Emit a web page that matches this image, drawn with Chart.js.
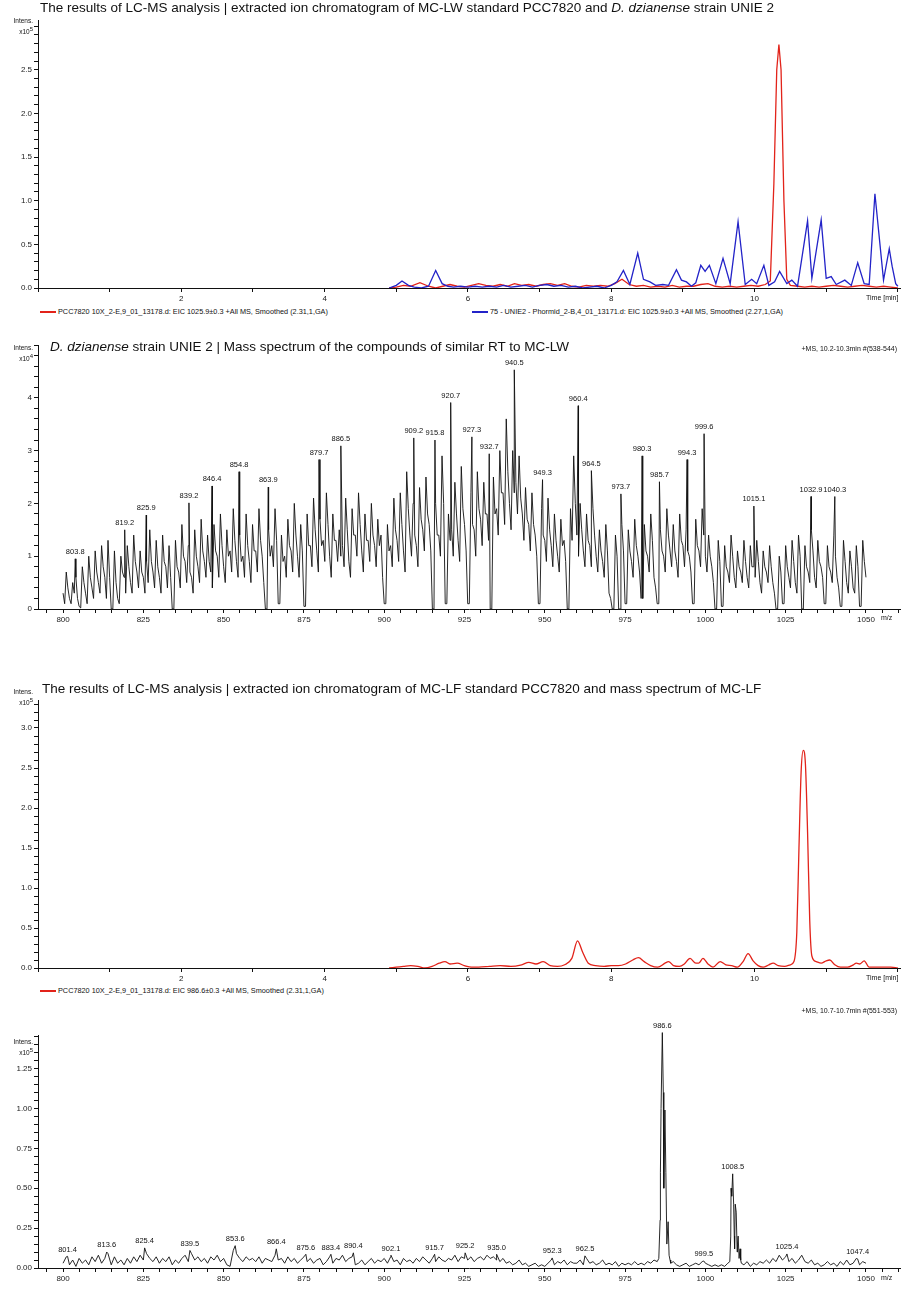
<!DOCTYPE html>
<html>
<head>
<meta charset="utf-8">
<script src="https://cdn.jsdelivr.net/npm/chart.js@4.4.1/dist/chart.umd.min.js"></script>
<style>
body { margin: 0; background: #fff; width: 901px; height: 1290px; position: relative; overflow: hidden; font-family: "Liberation Sans", Arial, sans-serif; color: #111; }
canvas { position: absolute; left: 0; }
.txt { position: absolute; white-space: nowrap; line-height: 1; }
.title { font-size: 13.5px; line-height: 16px; }
.small { font-size: 7px; }
.legtxt { font-size: 7.3px; }
.intens { font-size: 6.5px; width: 33px; text-align: right; left: 0; }
.leg { position: absolute; height: 1.5px; }
</style>
</head>
<body>

<!-- panel 1 -->
<canvas id="c1" width="901" height="304" style="top:0px"></canvas>
<div class="txt title" style="left:40px;top:0px">The results of LC-MS analysis | extracted ion chromatogram of MC-LW standard PCC7820 and <i>D. dzianense</i> strain UNIE 2</div>
<div class="txt intens" style="top:18px">Intens.</div>
<div class="txt intens" style="top:26px">x10<sup style="font-size:6px">5</sup></div>
<div class="txt small" style="left:866px;top:294px">Time [min]</div>
<div class="leg" style="left:40px;top:311px;width:16px;background:#e2231a"></div>
<div class="txt legtxt" style="left:58px;top:308px">PCC7820 10X_2-E,9_01_13178.d: EIC 1025.9±0.3 +All MS, Smoothed (2.31,1,GA)</div>
<div class="leg" style="left:472px;top:311px;width:16px;background:#2323c8"></div>
<div class="txt legtxt" style="left:490px;top:308px">75 - UNIE2 - Phormid_2-B,4_01_13171.d: EIC 1025.9±0.3 +All MS, Smoothed (2.27,1,GA)</div>

<!-- panel 2 -->
<canvas id="c2" width="901" height="295" style="top:330px"></canvas>
<div class="txt title" style="left:50px;top:339px"><i>D. dzianense</i> strain UNIE 2 | Mass spectrum of the compounds of similar RT to MC-LW</div>
<div class="txt intens" style="top:345px">Intens.</div>
<div class="txt intens" style="top:353px">x10<sup style="font-size:6px">4</sup></div>
<div class="txt small" style="right:4px;top:345px">+MS, 10.2-10.3min #(538-544)</div>
<div class="txt small" style="left:881px;top:614px">m/z</div>

<!-- panel 3 -->
<canvas id="c3" width="901" height="304" style="top:680px"></canvas>
<div class="txt title" style="left:42px;top:681px">The results of LC-MS analysis | extracted ion chromatogram of MC-LF standard PCC7820 and mass spectrum of MC-LF</div>
<div class="txt intens" style="top:689px">Intens.</div>
<div class="txt intens" style="top:697px">x10<sup style="font-size:6px">5</sup></div>
<div class="txt small" style="left:866px;top:974px">Time [min]</div>
<div class="leg" style="left:40px;top:990px;width:16px;background:#e2231a"></div>
<div class="txt legtxt" style="left:58px;top:987px">PCC7820 10X_2-E,9_01_13178.d: EIC 986.6±0.3 +All MS, Smoothed (2.31,1,GA)</div>

<!-- panel 4 -->
<canvas id="c4" width="901" height="269" style="top:1015px"></canvas>
<div class="txt intens" style="top:1039px">Intens.</div>
<div class="txt intens" style="top:1047px">x10<sup style="font-size:6px">5</sup></div>
<div class="txt small" style="right:4px;top:1007px">+MS, 10.7-10.7min #(551-553)</div>
<div class="txt small" style="left:881px;top:1274px">m/z</div>

<script>
// ---- panel 1 : EIC 1025.9 (MC-LW), x10^5 ----
var lwStdTime = [4.9, 5.0, 5.1, 5.2, 5.33, 5.45, 5.55, 5.65, 5.75, 5.85, 5.95, 6.05, 6.15, 6.25, 6.35, 6.45, 6.55, 6.65, 6.75, 6.85, 6.95, 7.05, 7.15, 7.25, 7.35, 7.45, 7.55, 7.65, 7.75, 7.85, 7.95, 8.05, 8.15, 8.25, 8.35, 8.45, 8.55, 8.65, 8.75, 8.85, 8.95, 9.05, 9.15, 9.25, 9.35, 9.45, 9.55, 9.65, 9.75, 9.85, 9.95, 10.05, 10.15, 10.22, 10.27, 10.31, 10.34, 10.37, 10.41, 10.45, 10.5, 10.6, 10.7, 10.8, 10.9, 11.0, 11.1, 11.2, 11.3, 11.4, 11.5, 11.6, 11.7, 11.8, 11.9, 12.0];
var lwStdInt = [0.0, 0.01, 0.03, 0.02, 0.06, 0.02, 0.0, 0.02, 0.04, 0.02, 0.01, 0.03, 0.05, 0.03, 0.02, 0.04, 0.02, 0.05, 0.03, 0.04, 0.02, 0.04, 0.05, 0.03, 0.05, 0.02, 0.01, 0.03, 0.02, 0.03, 0.02, 0.05, 0.1, 0.04, 0.02, 0.03, 0.01, 0.02, 0.01, 0.03, 0.01, 0.02, 0.02, 0.04, 0.05, 0.02, 0.01, 0.02, 0.01, 0.02, 0.03, 0.02, 0.04, 0.08, 1.2, 2.5, 2.79, 2.5, 1.0, 0.1, 0.03, 0.02, 0.01, 0.02, 0.01, 0.02, 0.03, 0.02, 0.01, 0.02, 0.03, 0.02, 0.01, 0.02, 0.01, 0.0];

var unieTime = [4.9, 5.0, 5.08, 5.17, 5.25, 5.35, 5.45, 5.55, 5.64, 5.72, 5.8, 5.9, 6.0, 6.1, 6.2, 6.3, 6.4, 6.5, 6.6, 6.7, 6.8, 6.9, 7.0, 7.1, 7.2, 7.3, 7.4, 7.5, 7.6, 7.7, 7.8, 7.9, 8.0, 8.08, 8.17, 8.26, 8.37, 8.45, 8.54, 8.62, 8.72, 8.8, 8.91, 8.98, 9.05, 9.12, 9.18, 9.25, 9.31, 9.37, 9.46, 9.56, 9.66, 9.77, 9.87, 9.96, 10.03, 10.13, 10.2, 10.28, 10.35, 10.45, 10.52, 10.6, 10.74, 10.8, 10.93, 11.0, 11.07, 11.14, 11.26, 11.35, 11.44, 11.53, 11.6, 11.68, 11.8, 11.88, 11.92, 11.97, 12.0];
var unieInt = [0.0, 0.03, 0.08, 0.03, 0.01, 0.0, 0.02, 0.2, 0.05, 0.02, 0.01, 0.02, 0.01, 0.02, 0.01, 0.02, 0.01, 0.03, 0.01, 0.02, 0.03, 0.01, 0.03, 0.04, 0.02, 0.03, 0.01, 0.02, 0.0, 0.01, 0.02, 0.0, 0.03, 0.07, 0.2, 0.04, 0.4, 0.1, 0.07, 0.03, 0.04, 0.03, 0.21, 0.09, 0.07, 0.02, 0.06, 0.26, 0.19, 0.26, 0.05, 0.34, 0.05, 0.76, 0.04, 0.1, 0.05, 0.26, 0.03, 0.07, 0.19, 0.05, 0.09, 0.02, 0.77, 0.11, 0.78, 0.11, 0.13, 0.04, 0.09, 0.03, 0.29, 0.05, 0.04, 1.08, 0.09, 0.45, 0.25, 0.05, 0.02];

// ---- panel 2 : MS of UNIE 2, x10^4 ----
// values at whole m/z 800..1050
var uMzStart = 800;
var uProfile = [
  0.3, 0.7, 0.2, 0.5, 0.6, 0.05, 0.8, 0.3, 1.0, 0.4,
  1.1, 0.5, 1.2, 0.6, 1.3, 0, 1.1, 0.2, 1.0, 0.6,
  1.2, 0.5, 1.4, 0.7, 1.1, 0.6, 0.9, 1.5, 0.7, 1.3,
  0.6, 1.4, 0.8, 1.2, 0, 1.3, 0.7, 1.6, 0.9, 1.2,
  0.6, 1.5, 0.8, 1.7, 0.9, 1.4, 0.7, 1.6, 1.0, 1.8,
  0.8, 1.5, 1.1, 1.9, 0.9, 1.4, 1.0, 1.8, 0.9, 1.6,
  1.1, 1.9, 1.0, 0, 1.5, 1.2, 1.9, 0.1, 1.4, 1.0,
  1.7, 1.1, 2.0, 1.0, 1.6, 0.05, 1.8, 1.2, 2.1, 1.1,
  1.7, 1.3, 2.2, 1.0, 1.8, 1.3, 1.5, 1.2, 2.1, 0.9,
  1.9, 1.4, 2.2, 1.1, 1.8, 1.3, 2.0, 1.2, 1.7, 1.4,
  0.1, 1.6, 1.2, 2.1, 1.3, 2.2, 1.1, 2.6, 1.4, 2.0,
  1.2, 2.3, 1.5, 2.5, 1.6, 0, 2.0, 1.4, 2.9, 0.1,
  1.8, 1.5, 2.4, 1.3, 2.7, 1.6, 0.1, 2.2, 1.5, 2.6,
  1.7, 2.4, 1.8, 0, 2.5, 1.9, 3.0, 2.2, 3.6, 2.0,
  3.0, 2.4, 2.9, 1.8, 2.3, 1.6, 2.2, 1.4, 0.1, 1.9,
  1.3, 2.1, 1.2, 1.8, 1.0, 1.7, 1.3, 0, 1.9, 2.9,
  1.4, 2.0, 1.1, 1.8, 1.2, 1.9, 1.0, 1.5, 0.9, 1.6,
  0.3, 0, 1.4, 0, 1.6, 0.1, 1.5, 0.9, 1.7, 1.0,
  0.2, 1.6, 1.0, 1.8, 0.6, 0.1, 1.5, 1.0, 1.9, 1.1,
  1.6, 0.9, 1.8, 1.2, 1.5, 1.0, 0.1, 1.7, 1.1, 1.9,
  1.0, 1.4, 0.8, 0, 1.3, 0.05, 1.2, 0.7, 1.4, 0.6,
  1.1, 0.7, 1.3, 0.6, 1.2, 0.8, 1.3, 0.5, 1.1, 0.7,
  1.2, 0.5, 0, 1.0, 0.1, 1.2, 0.6, 1.3, 0.5, 1.4,
  0, 1.2, 0.7, 1.5, 0.6, 1.3, 0.8, 0.1, 1.2, 0.7,
  1.4, 0.6, 0.05, 1.3, 0.5, 1.1, 0.4, 1.2, 0.05, 1.3,
  0.6
];
// values at half m/z 800.5..1049.5
var uHalfStart = 800.5;
var uHalf = [
  0.1, 0.4, 0.1, 0.3, 0.2, 0.02, 0.5, 0.1, 0.6, 0.2,
  0.7, 0.3, 0.8, 0.2, 0.6, 0, 0.5, 0.1, 0.7, 0.3,
  0.8, 0.3, 0.9, 0.4, 0.7, 0.3, 0.5, 0.9, 0.4, 0.8,
  0.3, 0.9, 0.4, 0.6, 0, 0.8, 0.4, 1.0, 0.5, 0.7,
  0.3, 1.0, 0.5, 1.1, 0.6, 0.9, 0.4, 1.1, 0.6, 1.2,
  0.5, 1.0, 0.7, 1.3, 0.6, 0.9, 0.6, 1.2, 0.5, 1.1,
  0.7, 1.3, 0.5, 0, 1.0, 0.8, 1.3, 0.1, 0.9, 0.6,
  1.2, 0.7, 1.4, 0.6, 1.1, 0.05, 1.2, 0.8, 1.5, 0.7,
  1.2, 0.9, 1.6, 0.6, 1.3, 0.9, 1.0, 0.8, 1.5, 0.6,
  1.4, 1.0, 1.6, 0.7, 1.3, 0.9, 1.4, 0.8, 1.2, 0.6,
  0.1, 1.1, 0.8, 1.5, 0.9, 1.6, 0.7, 1.9, 1.0, 1.4,
  0.8, 1.7, 1.1, 1.8, 1.1, 0, 1.4, 1.0, 2.0, 0.1,
  1.3, 1.0, 1.8, 0.9, 1.9, 1.1, 0.1, 1.6, 1.0, 1.9,
  1.2, 1.8, 1.3, 0, 1.8, 1.4, 2.2, 1.6, 2.6, 1.5,
  2.2, 1.8, 2.1, 1.3, 1.7, 1.1, 1.6, 1.0, 0.1, 1.4,
  0.9, 1.5, 0.8, 1.3, 0.7, 1.2, 0.9, 0, 1.3, 2.0,
  1.0, 1.5, 0.8, 1.3, 0.8, 1.4, 0.7, 1.1, 0.6, 1.1,
  0.2, 0, 1.0, 0, 1.1, 0.1, 1.1, 0.6, 1.2, 0.7,
  0.2, 1.1, 0.7, 1.3, 0.4, 0.1, 1.1, 0.7, 1.4, 0.8,
  1.1, 0.6, 1.3, 0.8, 1.1, 0.7, 0.1, 1.2, 0.8, 1.4,
  0.7, 1.0, 0.5, 0, 0.9, 0.05, 0.8, 0.5, 1.0, 0.4,
  0.8, 0.5, 0.9, 0.4, 0.8, 0.6, 0.9, 0.3, 0.8, 0.5,
  0.8, 0.3, 0, 0.7, 0.1, 0.8, 0.4, 0.9, 0.3, 1.0,
  0, 0.8, 0.5, 1.1, 0.4, 0.9, 0.6, 0.1, 0.8, 0.5,
  1.0, 0.4, 0.05, 0.9, 0.3, 0.8, 0.3, 0.8, 0.05, 0.9
];
var uPeakMz = [803.8, 819.2, 825.9, 839.2, 846.4, 854.8, 863.9, 879.7, 886.5, 909.2, 915.8, 920.7, 927.3, 932.7, 940.5, 949.3, 960.4, 964.5, 973.7, 980.3, 985.7, 994.3, 999.6, 1015.1, 1032.9, 1040.3];
var uPeakInt = [0.95, 1.5, 1.78, 2.01, 2.33, 2.6, 2.31, 2.83, 3.09, 3.24, 3.2, 3.91, 3.26, 2.94, 4.53, 2.45, 3.85, 2.62, 2.18, 2.9, 2.41, 2.83, 3.32, 1.95, 2.13, 2.13];

// ---- panel 3 : EIC 986.6 (MC-LF), x10^5 ----
var lfTime = [4.9, 5.0, 5.1, 5.2, 5.3, 5.4, 5.5, 5.6, 5.68, 5.75, 5.85, 5.95, 6.05, 6.15, 6.3, 6.45, 6.6, 6.75, 6.85, 6.95, 7.05, 7.15, 7.25, 7.35, 7.45, 7.53, 7.6, 7.68, 7.78, 7.9, 8.0, 8.1, 8.2, 8.3, 8.38, 8.46, 8.55, 8.65, 8.75, 8.8, 8.87, 8.95, 9.02, 9.1, 9.18, 9.22, 9.28, 9.35, 9.42, 9.52, 9.6, 9.68, 9.76, 9.84, 9.91, 9.98, 10.05, 10.12, 10.2, 10.26, 10.33, 10.42, 10.5, 10.55, 10.59, 10.62, 10.65, 10.68, 10.71, 10.74, 10.77, 10.8, 10.86, 10.93, 11.0, 11.05, 11.12, 11.2, 11.3, 11.38, 11.42, 11.47, 11.53, 11.6, 11.7, 11.8, 11.9, 12.0];
var lfInt = [0.0, 0.01, 0.02, 0.03, 0.02, 0.0, 0.02, 0.06, 0.08, 0.05, 0.06, 0.03, 0.01, 0.01, 0.02, 0.03, 0.02, 0.04, 0.07, 0.05, 0.08, 0.03, 0.02, 0.04, 0.12, 0.34, 0.2, 0.06, 0.03, 0.02, 0.03, 0.03, 0.05, 0.1, 0.13, 0.08, 0.03, 0.01, 0.06, 0.08, 0.03, 0.02, 0.05, 0.12, 0.06, 0.06, 0.12, 0.05, 0.01, 0.08, 0.04, 0.03, 0.01, 0.08, 0.18, 0.09, 0.03, 0.01, 0.04, 0.06, 0.03, 0.02, 0.04, 0.08, 0.45, 1.5, 2.45, 2.72, 2.55, 1.7, 0.6, 0.15, 0.08, 0.06, 0.09, 0.1, 0.04, 0.01, 0.01, 0.04, 0.06, 0.05, 0.09, 0.01, 0.01, 0.01, 0.01, 0.0];

// ---- panel 4 : MS of MC-LF, 800..1050 step 1, x10^5 ----
var fMzStart = 800;
var fProfile = [
  0.03, 0.07, 0.02, 0.05, 0.01, 0.06, 0.03, 0.05, 0.02, 0.07,
  0.04, 0.08, 0.03, 0.06, 0.09, 0.02, 0.07, 0.03, 0.05, 0.02,
  0.06, 0.03, 0.07, 0.04, 0.08, 0.05, 0.09, 0.06, 0.04, 0.07,
  0.03, 0.06, 0.04, 0.07, 0.02, 0.05, 0.03, 0.06, 0.08, 0.04,
  0.09, 0.05, 0.07, 0.04, 0.06, 0.03, 0.07, 0.05, 0.08, 0.04,
  0.06, 0.02, 0.01, 0.11, 0.09, 0.06, 0.04, 0.07, 0.05, 0.06,
  0.04, 0.07, 0.03, 0.06, 0.05, 0.04, 0.08, 0.05, 0.06, 0.03,
  0.07, 0.04, 0.06, 0.03, 0.05, 0.07, 0.04, 0.06, 0.03, 0.05,
  0.06, 0.02, 0.04, 0.07, 0.03, 0.06, 0.05, 0.08, 0.04, 0.06,
  0.07, 0.02, 0.03, 0.05, 0.02, 0.04, 0.06, 0.03, 0.05, 0.04,
  0.06, 0.03, 0.07, 0.04, 0.05, 0.02, 0.06, 0.04, 0.05, 0.03,
  0.06, 0.04, 0.07, 0.05, 0.03, 0.06, 0.04, 0.07, 0.05, 0.04,
  0.06, 0.05, 0.08, 0.04, 0.07, 0.06, 0.05, 0.07, 0.04, 0.06,
  0.07, 0.05, 0.08, 0.06, 0.07, 0.05, 0.04, 0.06, 0.03, 0.04,
  0.02, 0.03, 0.05, 0.02, 0.03, 0.01, 0.02, 0.03, 0.01, 0.02,
  0.01, 0.03, 0.05, 0.02, 0.04, 0.03, 0.05, 0.02, 0.04, 0.03,
  0.03, 0.05, 0.02, 0.06, 0.03, 0.04, 0.02, 0.03, 0.05, 0.02,
  0.03, 0.02, 0.04, 0.01, 0.03, 0.02, 0.03, 0.02, 0.04, 0.02,
  0.03, 0.02, 0.04, 0.03, 0.05, 0.04, 0.6, 0.8, 0.15, 0.05,
  0.04, 0.02, 0.01, 0.02, 0.03, 0.01, 0.02, 0.03, 0.02, 0.04,
  0.03, 0.02, 0.01, 0.02, 0.01, 0.02, 0.01, 0.03, 0.5, 0.2,
  0.15, 0.05, 0.02, 0.04, 0.01, 0.03, 0.02, 0.04, 0.03, 0.05,
  0.03, 0.06, 0.04, 0.08, 0.05, 0.07, 0.04, 0.06, 0.03, 0.05,
  0.08, 0.04, 0.03, 0.05, 0.02, 0.03, 0.01, 0.02, 0.04, 0.02,
  0.03, 0.01, 0.04, 0.02, 0.05, 0.02, 0.03, 0.06, 0.02, 0.04,
  0.03
];
// shoulders of the two main isotope clusters
var fClusterMz = [985.5, 985.9, 986.2, 986.9, 987.1, 987.4, 987.7, 988.0, 988.4, 988.7, 989.2, 1007.6, 1007.9, 1008.2, 1008.8, 1009.1, 1009.3, 1009.6, 1009.9, 1010.2, 1010.5, 1010.8, 1011.2];
var fClusterInt = [0.06, 0.3, 1.0, 1.1, 0.5, 0.99, 0.6, 0.15, 0.29, 0.08, 0.03, 0.04, 0.2, 0.45, 0.4, 0.12, 0.4, 0.35, 0.1, 0.2, 0.06, 0.12, 0.03];
var fPeakMz = [801.4, 813.6, 825.4, 839.5, 853.6, 866.4, 875.6, 883.4, 890.4, 902.1, 915.7, 925.2, 935.0, 952.3, 962.5, 986.6, 999.5, 1008.5, 1025.4, 1047.4];
var fPeakInt = [0.073, 0.1, 0.126, 0.11, 0.14, 0.12, 0.086, 0.086, 0.095, 0.08, 0.086, 0.095, 0.086, 0.063, 0.076, 1.475, 0.044, 0.59, 0.088, 0.057];

var RED = '#e2231a', BLUE = '#2323c8', INK = '#111';

Chart.defaults.font.family = '"Liberation Sans", Arial, sans-serif';
Chart.defaults.font.size = 8;
Chart.defaults.color = '#222';

function pts(xs, ys) {
    return xs.map(function (x, i) { return { x: x, y: ys[i] }; });
}

// evenly spaced profile + extra points, sorted by m/z
function spectrum(start, profile, extraMz, extraInt) {
    var p = profile.map(function (v, i) { return { x: start + i, y: v }; });
    extraMz.forEach(function (m, i) { p.push({ x: m, y: extraInt[i] }); });
    return p.sort(function (a, b) { return a.x - b.x; });
}

// peak labels above the tops
var peakLabels = {
    id: 'peakLabels',
    afterDatasetsDraw: function (chart, args, opts) {
        if (!opts || !opts.mz) return;
        var ctx = chart.ctx, xs = chart.scales.x, ys = chart.scales.y;
        ctx.save();
        ctx.font = '7.5px "Liberation Sans", Arial, sans-serif';
        ctx.fillStyle = INK;
        ctx.textAlign = 'center';
        ctx.textBaseline = 'bottom';
        opts.mz.forEach(function (m, i) {
            ctx.fillText(m.toFixed(1), xs.getPixelForValue(m), ys.getPixelForValue(opts.val[i]) - 3);
        });
        ctx.restore();
    }
};

function axis(min, max, step, labelFn, fit) {
    return {
        type: 'linear', min: min, max: max,
        border: { display: true, color: INK, width: 1 },
        grid: { drawOnChartArea: false, drawTicks: true, tickLength: 4, color: INK },
        ticks: { stepSize: step, autoSkip: false, includeBounds: false, maxRotation: 0, padding: 2, callback: labelFn },
        afterFit: fit
    };
}
function fitY(s) { s.width = 38; }
function fitX(s) { s.height = 16; }

function near(v, q) { return Math.abs(v / q - Math.round(v / q)) < 1e-6; }

function timeAxis() {
    return axis(0, 12.03, 1, function (v) { return (near(v, 2) && v > 0 && v < 12) ? String(Math.round(v)) : ''; }, fitX);
}
function mzAxis() {
    return axis(792.2, 1060.6, 5, function (v) { return near(v, 25) ? String(Math.round(v)) : ''; }, fitX);
}

function makeChart(id, padTop, datasets, xScale, yScale, labels) {
    return new Chart(document.getElementById(id), {
        type: 'line',
        data: { datasets: datasets },
        options: {
            responsive: false,
            animation: false,
            layout: { padding: { top: padTop, right: 1, left: 0, bottom: 0 } },
            elements: { point: { radius: 0 } },
            plugins: { legend: { display: false }, tooltip: { enabled: false }, peakLabels: labels || {} },
            scales: { x: xScale, y: yScale }
        },
        plugins: [peakLabels]
    });
}

// panel 1
makeChart('c1', 20, [
    { data: pts(unieTime, unieInt), borderColor: BLUE, borderWidth: 1.3, tension: 0 },
    { data: pts(lwStdTime, lwStdInt), borderColor: RED, borderWidth: 1.3, tension: 0 }
], timeAxis(),
   axis(0, 3.07, 0.1, function (v) { return (near(v, 0.5) && v < 2.9) ? v.toFixed(1) : ''; }, fitY));

// panel 2
var uHalfMz = uHalf.map(function (v, i) { return uHalfStart + i; });
makeChart('c2', 15, [
    { data: spectrum(uMzStart, uProfile, uHalfMz.concat(uPeakMz), uHalf.concat(uPeakInt)), borderColor: INK, borderWidth: 0.9, tension: 0 }
], mzAxis(),
   axis(0, 5.0, 0.2, function (v) { return (near(v, 1) && v < 4.5) ? String(Math.round(v)) : ''; }, fitY),
   { mz: uPeakMz, val: uPeakInt });

// panel 3
makeChart('c3', 20, [
    { data: pts(lfTime, lfInt), borderColor: RED, borderWidth: 1.3, cubicInterpolationMode: 'monotone' }
], timeAxis(),
   axis(0, 3.35, 0.1, function (v) { return near(v, 0.5) ? v.toFixed(1) : ''; }, fitY));

// panel 4
makeChart('c4', 20, [
    { data: spectrum(fMzStart, fProfile, fClusterMz.concat(fPeakMz), fClusterInt.concat(fPeakInt)), borderColor: INK, borderWidth: 0.9, tension: 0, clip: false }
], mzAxis(),
   axis(0, 1.46, 0.05, function (v) { return (near(v, 0.25) && v < 1.4) ? v.toFixed(2) : ''; }, fitY),
   { mz: fPeakMz, val: fPeakInt });
</script>
</body>
</html>
